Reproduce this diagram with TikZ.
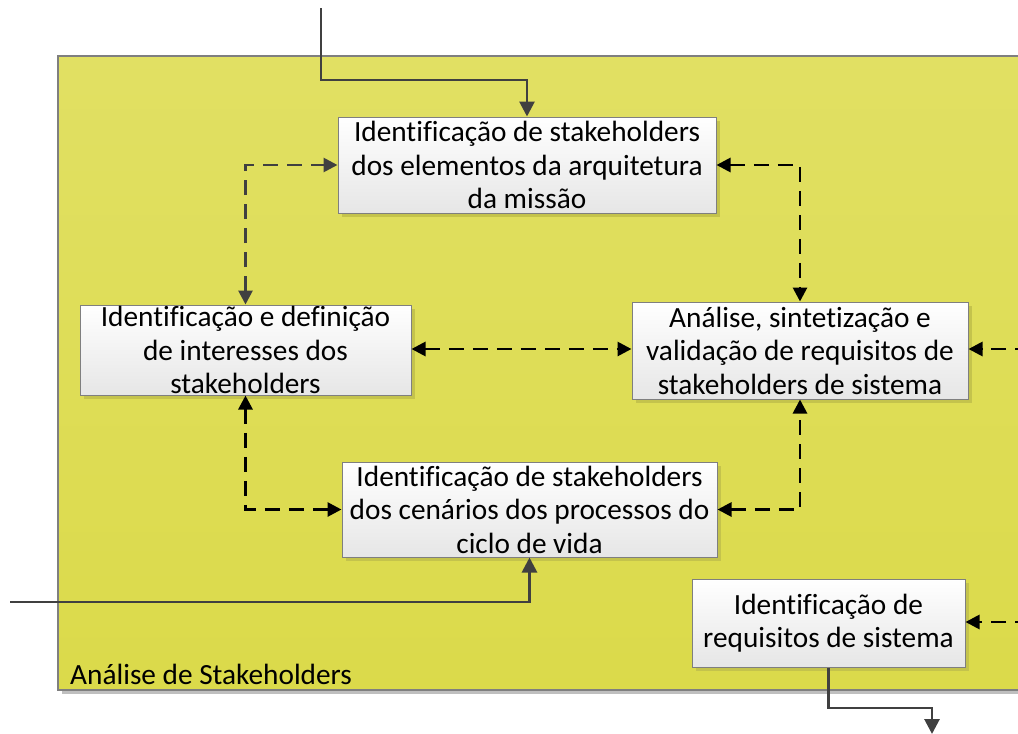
\documentclass[tikz,border=0pt]{standalone}
\usepackage{fontspec}
\setmainfont[Ligatures=NoCommon]{Carlito}
\usetikzlibrary{arrows.meta,shadows}
\definecolor{yeltop}{HTML}{E1E063}
\definecolor{yelbot}{HTML}{DBDA4A}
\definecolor{yelshadow}{HTML}{C4C34C}
\definecolor{boxborder}{HTML}{7F7F7F}
\definecolor{boxbot}{HTML}{E6E6E6}
\definecolor{darkline}{HTML}{404040}
\tikzset{
  txt/.style={font=\fontsize{29.3}{33.5}\selectfont},
  proc/.style={draw=boxborder, line width=1pt, top color=white, bottom color=boxbot,
    align=center, txt, inner sep=0pt,
    drop shadow={shadow xshift=4pt, shadow yshift=-4pt, fill=yelshadow, opacity=1}},
  flowin/.style={draw=darkline, line width=2.8pt, -{Triangle[length=15pt,width=15pt]}},
  dashlink/.style={draw=black, line width=2.8pt, dash pattern=on 15pt off 9pt,
    {Triangle[length=14pt,width=14pt]}-{Triangle[length=14pt,width=14pt]}},
  dashin/.style={draw=black, line width=2.8pt, dash pattern=on 15pt off 9pt,
    -{Triangle[length=14pt,width=14pt]}},
}
\begin{document}
\begin{tikzpicture}[x=1pt,y=-1pt]
\useasboundingbox (0,0) rectangle (1018,734);
\clip (0,0) rectangle (1018,734);
% container
\fill[black!25] (62,60) rectangle (1040,694);
\shade[top color=yeltop, bottom color=yelbot] (58,56) rectangle (1040,690);
\draw[boxborder, line width=1.2pt] (1040,56) -- (58,56) -- (58,690) -- (1040,690);
\node[anchor=base west, txt, inner sep=0pt] (lbl) at (70,684) {Análise de Stakeholders};
% boxes
\node[proc, minimum width=378pt, minimum height=96pt] (A) at (527,165)
  {Identificação de stakeholders\\dos elementos da arquitetura\\da missão};
\node[proc, minimum width=331pt, minimum height=90pt] (B) at (245.5,350)
  {Identificação e definição\\de interesses dos\\stakeholders};
\node[proc, minimum width=336pt, minimum height=97pt] (C) at (800,350.5)
  {Análise, sintetização e\\validação de requisitos de\\stakeholders de sistema};
\node[proc, minimum width=375pt, minimum height=95pt] (D) at (529.5,509.5)
  {Identificação de stakeholders\\dos cenários dos processos do\\ciclo de vida};
\node[proc, minimum width=273pt, minimum height=88pt] (E) at (828.5,623)
  {Identificação de\\requisitos de sistema};
% external coordinates
\coordinate (in1) at (321,8);
\coordinate (j1) at (321,80);
\coordinate (in2) at (10,602);
\coordinate (r1) at (1030,349);
\coordinate (r2) at (1030,622);
\coordinate (ob) at (932,708);
\coordinate (oe) at (932,734);
% solid flows
\draw[flowin] (in1) -- (j1) -| (A.north);
\draw[flowin] (in2) -| (D.south);
\draw[flowin] (E.south) |- (ob) -- (oe);
% dashed links
\draw[dashlink, draw=darkline] (B.north) |- (A.west);
\draw[dashlink] (A.east) -| (C.north);
\draw[dashlink] (B.east |- 0,349) -- (C.west |- 0,349);
\draw[dashlink] (B.south) |- (D.west);
\draw[dashlink] (D.east) -| (C.south);
\draw[dashin] (r1) -- (C.east |- r1);
\draw[dashin] (r2) -- (E.east |- r2);
\end{tikzpicture}
\end{document}
